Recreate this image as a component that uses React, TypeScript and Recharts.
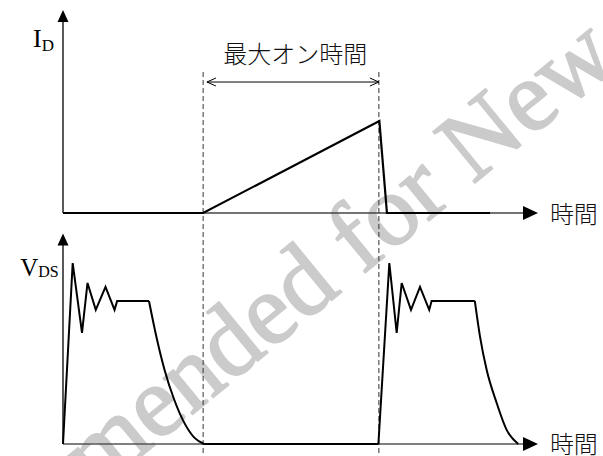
import React from 'react';
import { LineChart, Line, XAxis, YAxis, ReferenceLine, ReferenceDot } from 'recharts';

// ---- data (time axis 0..100, I_D and V_DS in arbitrary units 0..100) ----
const idWave = [
  { t: 0, i: 0 },
  { t: 29.5, i: 0 },
  { t: 66.6, i: 45.3 },
  { t: 68.2, i: 0 },
  { t: 89.9, i: 0 },
];

const vdsRing1 = [
  { t: 0, v: 0 },
  { t: 2.04, v: 83.4 },
  { t: 4.0, v: 51.2 },
  { t: 5.16, v: 74.2 },
  { t: 6.9, v: 61.8 },
  { t: 8.95, v: 72.4 },
  { t: 10.85, v: 61.8 },
  { t: 11.4, v: 65.9 },
  { t: 18.1, v: 65.9 },
];
const vdsFall1 = [
  { t: 18.1, v: 65.9 },
  { t: 19.6, v: 50.0 },
  { t: 21.4, v: 34.0 },
  { t: 23.4, v: 20.5 },
  { t: 25.6, v: 9.5 },
  { t: 27.7, v: 2.8 },
  { t: 29.7, v: 0 },
];
const vdsOff = [
  { t: 29.7, v: 0 },
  { t: 66.4, v: 0 },
];
const vdsRing2 = [
  { t: 66.4, v: 0 },
  { t: 68.7, v: 83.4 },
  { t: 70.25, v: 51.2 },
  { t: 71.3, v: 74.2 },
  { t: 73.26, v: 61.8 },
  { t: 75.16, v: 72.4 },
  { t: 77.1, v: 61.8 },
  { t: 77.6, v: 65.9 },
  { t: 86.7, v: 65.9 },
];
const vdsFall2 = [
  { t: 86.7, v: 65.9 },
  { t: 87.8, v: 49.4 },
  { t: 89.2, v: 34.1 },
  { t: 91.3, v: 18.9 },
  { t: 93.4, v: 6.5 },
  { t: 95.85, v: 0 },
];

const onStart = 29.5;
const onEnd = 66.5;
const dashTop = 171.4;
const dashBottom = -5.5;
const spanArrowY = 64.5;
const spanArrowLeft = 30.3;
const spanTitle = '最大オン時間';
const timeLabel = '時間';
const watermark = 'Not Recommended for New Design';
const xEnd = 100;
const idArrowTop = 100;
const vdsArrowTop = 97;

const W = 603;
const H = 456;
const serif = "'Liberation Serif', 'Times New Roman', serif";
const cjk = "'Noto Sans CJK JP', 'Noto Sans CJK SC', sans-serif";

const arrowRight = (p: any) => (
  <polygon points={`${p.cx},${p.cy} ${p.cx - 15},${p.cy - 7} ${p.cx - 15},${p.cy + 7}`} fill="#000" />
);
const arrowUp = (p: any) => (
  <polygon points={`${p.cx},${p.cy} ${p.cx - 5.5},${p.cy + 12} ${p.cx + 5.5},${p.cy + 12}`} fill="#000" />
);
const chevronLeft = (p: any) => (
  <polyline points={`${p.cx + 9},${p.cy - 4} ${p.cx},${p.cy} ${p.cx + 9},${p.cy + 4}`} fill="none" stroke="#000" strokeWidth={1} />
);
const chevronRight = (p: any) => (
  <polyline points={`${p.cx - 9},${p.cy - 4} ${p.cx},${p.cy} ${p.cx - 9},${p.cy + 4}`} fill="none" stroke="#000" strokeWidth={1} />
);

const idLabel = (p: any) => (
  <text x={p.cx} y={p.cy} fontFamily={serif} fontSize={26} fill="#000">
    I<tspan fontSize={17} dy={4}>D</tspan>
  </text>
);
const vdsLabel = (p: any) => (
  <text x={p.cx} y={p.cy} fontFamily={serif} fontSize={25} fill="#000">
    V<tspan fontSize={16} dy={1}>DS</tspan>
  </text>
);
const cjkText = (s: string, anchor: 'start' | 'middle') => (p: any) => (
  <text x={p.cx} y={p.cy} fontFamily={cjk} fontSize={24} fontWeight={300} fill="#111" textAnchor={anchor} dominantBaseline="central">
    {s}
  </text>
);

export default function App() {
  return (
    <div style={{ position: 'absolute', left: 0, top: 0, width: W, height: H, background: '#fff', overflow: 'hidden' }}>
      <svg width={W} height={H} style={{ position: 'absolute', left: 0, top: 0 }}>
        <text
          transform="translate(-263,787) rotate(-39.3)"
          fontFamily={serif}
          fontSize={101}
          fill="#cbcbcb"
          stroke="#cbcbcb"
          strokeWidth={1.8}
          strokeLinejoin="round"
        >
          {watermark}
        </text>
      </svg>
      <div style={{ position: 'absolute', left: 0, top: 0 }}>
        <LineChart width={W} height={H} margin={{ top: 0, right: 65, bottom: 0, left: 44 }}>
          <XAxis type="number" dataKey="t" domain={[-4, 100]} hide allowDataOverflow />
          <YAxis yAxisId="id" type="number" domain={[-119.7, 104.9]} hide allowDataOverflow />
          <YAxis yAxisId="vds" type="number" domain={[-5.53, 204.6]} hide allowDataOverflow />

          {/* axes */}
          <ReferenceLine yAxisId="id" segment={[{ x: 0, y: 0 }, { x: xEnd - 2, y: 0 }]} stroke="#444" strokeWidth={1.5} ifOverflow="visible" />
          <ReferenceLine yAxisId="id" segment={[{ x: 0, y: 0 }, { x: 0, y: idArrowTop - 3 }]} stroke="#222" strokeWidth={1.5} ifOverflow="visible" />
          <ReferenceLine yAxisId="vds" segment={[{ x: 0, y: 0 }, { x: xEnd - 2, y: 0 }]} stroke="#555" strokeWidth={1.5} ifOverflow="visible" />
          <ReferenceLine yAxisId="vds" segment={[{ x: 0, y: 0 }, { x: 0, y: vdsArrowTop - 3 }]} stroke="#222" strokeWidth={1.5} ifOverflow="visible" />
          <ReferenceDot yAxisId="id" x={xEnd} y={0} r={0} shape={arrowRight} ifOverflow="visible" />
          <ReferenceDot yAxisId="id" x={0} y={idArrowTop} r={0} shape={arrowUp} ifOverflow="visible" />
          <ReferenceDot yAxisId="vds" x={xEnd} y={0} r={0} shape={arrowRight} ifOverflow="visible" />
          <ReferenceDot yAxisId="vds" x={0} y={vdsArrowTop} r={0} shape={arrowUp} ifOverflow="visible" />

          {/* dashed on-time markers */}
          <ReferenceLine yAxisId="vds" segment={[{ x: onStart, y: dashTop }, { x: onStart, y: dashBottom }]} stroke="#333" strokeWidth={1} strokeDasharray="5 3" ifOverflow="visible" />
          <ReferenceLine yAxisId="vds" segment={[{ x: onEnd, y: dashTop }, { x: onEnd, y: dashBottom }]} stroke="#333" strokeWidth={1} strokeDasharray="5 3" ifOverflow="visible" />

          {/* span arrow */}
          <ReferenceLine yAxisId="id" segment={[{ x: spanArrowLeft, y: spanArrowY }, { x: onEnd, y: spanArrowY }]} stroke="#000" strokeWidth={1} ifOverflow="visible" />
          <ReferenceDot yAxisId="id" x={spanArrowLeft} y={spanArrowY} r={0} shape={chevronLeft} ifOverflow="visible" />
          <ReferenceDot yAxisId="id" x={onEnd} y={spanArrowY} r={0} shape={chevronRight} ifOverflow="visible" />

          {/* labels */}
          <ReferenceDot yAxisId="id" x={48.9} y={78.8} r={0} shape={cjkText(spanTitle, 'middle')} ifOverflow="visible" />
          <ReferenceDot yAxisId="id" x={102.5} y={0} r={0} shape={cjkText(timeLabel, 'start')} ifOverflow="visible" />
          <ReferenceDot yAxisId="vds" x={102.5} y={0.8} r={0} shape={cjkText(timeLabel, 'start')} ifOverflow="visible" />
          <ReferenceDot yAxisId="id" x={-6.3} y={81.8} r={0} shape={idLabel} ifOverflow="visible" />
          <ReferenceDot yAxisId="vds" x={-9.0} y={77.5} r={0} shape={vdsLabel} ifOverflow="visible" />

          {/* waveforms */}
          <Line yAxisId="id" data={idWave} dataKey="i" type="linear" stroke="#000" strokeWidth={2.2} dot={false} isAnimationActive={false} />
          <Line yAxisId="vds" data={vdsRing1} dataKey="v" type="linear" stroke="#000" strokeWidth={2} dot={false} isAnimationActive={false} />
          <Line yAxisId="vds" data={vdsFall1} dataKey="v" type="monotone" stroke="#000" strokeWidth={2} dot={false} isAnimationActive={false} />
          <Line yAxisId="vds" data={vdsOff} dataKey="v" type="linear" stroke="#000" strokeWidth={2} dot={false} isAnimationActive={false} />
          <Line yAxisId="vds" data={vdsRing2} dataKey="v" type="linear" stroke="#000" strokeWidth={2} dot={false} isAnimationActive={false} />
          <Line yAxisId="vds" data={vdsFall2} dataKey="v" type="monotone" stroke="#000" strokeWidth={2} dot={false} isAnimationActive={false} />
        </LineChart>
      </div>
    </div>
  );
}
